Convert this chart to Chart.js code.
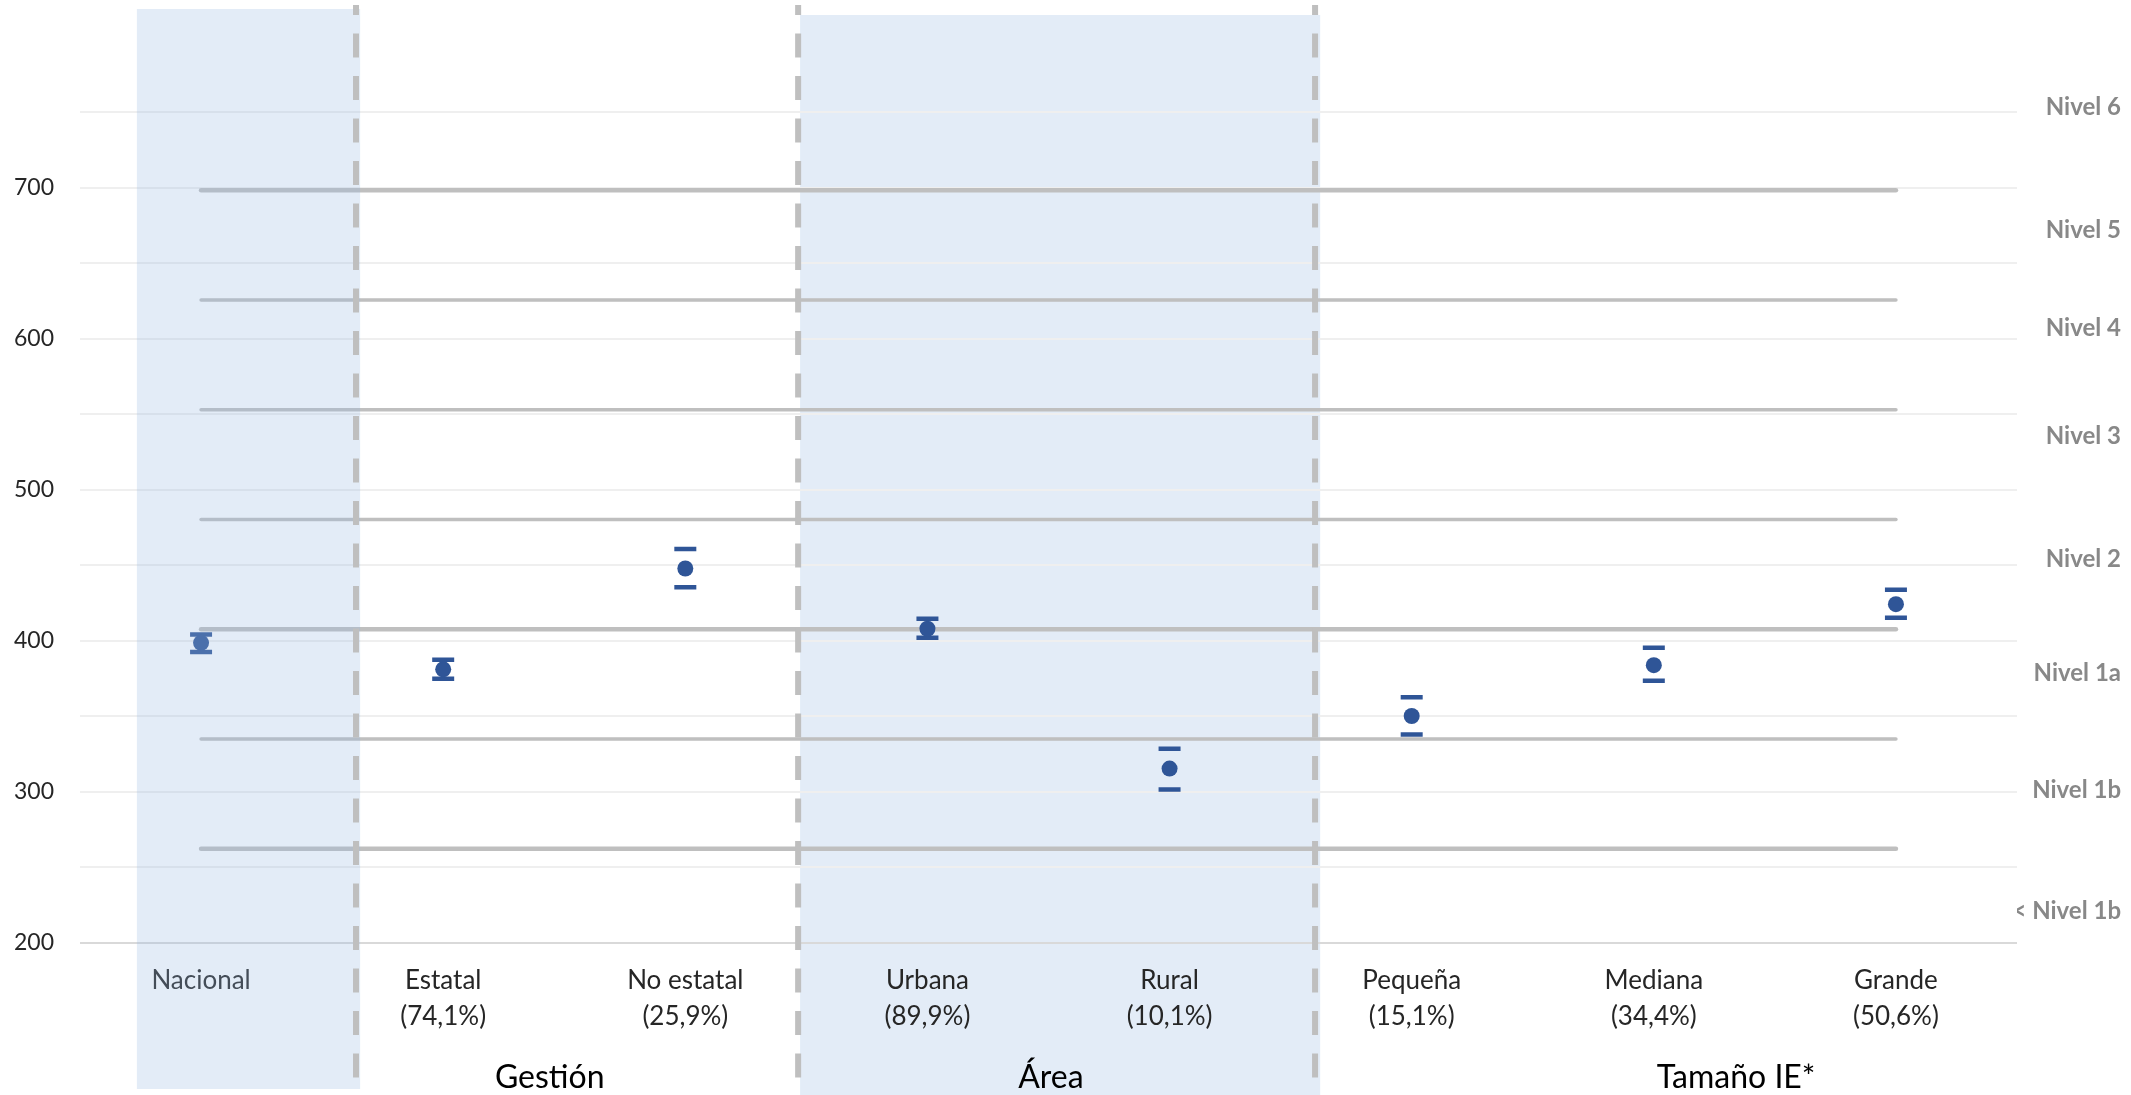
<!DOCTYPE html>
<html lang="es">
<head>
<meta charset="UTF-8">
<title>Puntaje promedio en lectura por características</title>
<script src="https://cdn.jsdelivr.net/npm/chart.js@4.4.1/dist/chart.umd.min.js"></script>
<style>
    html, body { margin: 0; padding: 0; background: #ffffff; }
    .contenedor { position: relative; width: 2131px; height: 1095px; }
</style>
</head>
<body>
<div class="contenedor">
    <canvas id="graficoNiveles"></canvas>
</div>
<script>
// ==========================================
// DATOS
// ==========================================
const categorias = ['Nacional', 'Estatal', 'No estatal', 'Urbana', 'Rural', 'Pequeña', 'Mediana', 'Grande'];
const porcentajes = ['', '(74,1%)', '(25,9%)', '(89,9%)', '(10,1%)', '(15,1%)', '(34,4%)', '(50,6%)'];

// Puntaje promedio y extremos del intervalo de confianza
const medias = [398.5, 380.9, 447.7, 407.8, 315.2, 350.0, 383.7, 424.1];
const limiteSuperior = [404.0, 387.3, 460.7, 414.4, 328.4, 362.4, 395.2, 433.6];
const limiteInferior = [392.4, 374.7, 435.3, 401.8, 301.3, 337.7, 373.4, 415.1];

// Puntos de corte de los niveles de desempeño
const puntosCorte = [262.04, 334.75, 407.47, 480.18, 552.89, 625.61, 698.32];

// Etiquetas de niveles (eje derecho)
const nivelesEtiquetas = ['< Nivel 1b', 'Nivel 1b', 'Nivel 1a', 'Nivel 2', 'Nivel 3', 'Nivel 4', 'Nivel 5', 'Nivel 6'];
const nivelesPosicion = [221, 301, 378, 454, 535, 607, 672, 753];

const grupos = ['Gestión', 'Área', 'Tamaño IE*'];

const ejeMin = 200;
const ejeMax = 760;
const ejePaso = 50;

const AZUL = '#2f5597';
const GRIS_NIVEL = '#bfbfbf';
// algunas líneas de corte se ven más gruesas en el original
const grosorLineas = [4.5, 3.5, 4.5, 3.5, 3.5, 3.5, 4.5];

document.addEventListener('DOMContentLoaded', () => {
    inicializarGrafico();
});

/**
 * Cajas sombreadas, líneas discontinuas y títulos de grupo
 */
const pluginSeparadores = {
    id: 'separadores',
    beforeDraw(chart, args, opts) {
        // caja de "Área" por detrás de la cuadrícula
        const ctx = chart.ctx;
        const x = chart.scales.x;
        const c = opts.cajaFondo;
        const x0 = x.getPixelForValue(c.desde);
        const x1 = x.getPixelForValue(c.hasta);
        ctx.save();
        ctx.fillStyle = opts.colorCaja;
        ctx.fillRect(x0, c.arriba, x1 - x0, chart.height - c.arriba - c.abajo);
        ctx.restore();
    },
    afterDraw(chart, args, opts) {
        const ctx = chart.ctx;
        const x = chart.scales.x;

        // caja de "Nacional" por encima de todo (semitransparente)
        const c = opts.cajaFrente;
        const x0 = x.getPixelForValue(c.desde);
        const x1 = x.getPixelForValue(c.hasta);
        ctx.save();
        ctx.fillStyle = opts.colorCaja;
        ctx.fillRect(x0, c.arriba, x1 - x0, chart.height - c.arriba - c.abajo);
        ctx.restore();

        // líneas discontinuas entre grupos
        ctx.save();
        ctx.strokeStyle = GRIS_NIVEL;
        ctx.lineWidth = 6;
        ctx.setLineDash([24, 18.5]);
        ctx.lineDashOffset = 14;
        opts.separadores.forEach(pos => {
            const px = x.getPixelForValue(pos);
            ctx.beginPath();
            ctx.moveTo(px, 5);
            ctx.lineTo(px, chart.height - 6);
            ctx.stroke();
        });
        ctx.restore();

        // títulos de grupo
        ctx.save();
        ctx.fillStyle = '#000000';
        ctx.font = '32px Lato';
        ctx.textAlign = 'center';
        ctx.textBaseline = 'alphabetic';
        grupos.forEach((g, i) => {
            ctx.fillText(g, x.getPixelForValue(opts.centrosGrupo[i]), chart.height - 7);
        });
        ctx.restore();
    }
};

function inicializarGrafico() {
    const lienzo = document.getElementById('graficoNiveles');
    if (!lienzo) return;

    const etiquetas = categorias.map((c, i) => porcentajes[i] ? [c, porcentajes[i]] : c);

    // una línea horizontal por cada punto de corte
    const lineasNiveles = puntosCorte.map((corte, i) => ({
        label: 'Corte ' + corte,
        data: categorias.map(() => corte),
        borderColor: GRIS_NIVEL,
        borderWidth: grosorLineas[i],
        borderCapStyle: 'round',
        pointRadius: 0,
        fill: false,
        order: 5
    }));

    new Chart(lienzo.getContext('2d'), {
        type: 'line',
        data: {
            labels: etiquetas,
            datasets: [
                {
                    label: 'Puntaje promedio',
                    data: medias,
                    showLine: false,
                    pointRadius: 8,
                    pointBackgroundColor: AZUL,
                    pointBorderWidth: 0,
                    order: 0
                },
                {
                    label: 'Límite superior',
                    data: limiteSuperior,
                    showLine: false,
                    pointStyle: 'line',
                    pointRadius: 11,
                    pointBorderColor: AZUL,
                    pointBorderWidth: 4.5,
                    order: 1
                },
                {
                    label: 'Límite inferior',
                    data: limiteInferior,
                    showLine: false,
                    pointStyle: 'line',
                    pointRadius: 11,
                    pointBorderColor: AZUL,
                    pointBorderWidth: 4.5,
                    order: 1
                },
                ...lineasNiveles
            ]
        },
        options: {
            responsive: true,
            maintainAspectRatio: false,
            animation: false,
            events: [],
            layout: {
                padding: { top: 97, right: 10, bottom: 0, left: 14 }
            },
            plugins: {
                legend: { display: false },
                tooltip: { enabled: false },
                separadores: {
                    colorCaja: 'rgba(151, 184, 225, 0.27)',
                    cajaFondo: { desde: 2.474, hasta: 4.622, arriba: 15, abajo: 0 },
                    cajaFrente: { desde: -0.265, hasta: 0.657, arriba: 9, abajo: 6 },
                    separadores: [0.640, 2.466, 4.601],
                    centrosGrupo: [1.44, 3.51, 6.34]
                }
            },
            scales: {
                x: {
                    type: 'category',
                    offset: true,
                    grid: { display: false, drawTicks: false },
                    border: { display: false },
                    ticks: {
                        autoSkip: false,
                        maxRotation: 0,
                        padding: 20,
                        color: '#262626',
                        font: { family: 'Lato', size: 26, lineHeight: 1.385 }
                    },
                    afterFit: (escala) => { escala.height = 152.5; }
                },
                y: {
                    type: 'linear',
                    position: 'left',
                    min: ejeMin,
                    max: ejeMax,
                    grid: {
                        drawTicks: false,
                        lineWidth: 2,
                        color: (c) => (c.tick && c.tick.value === ejeMin) ? '#d9d9d9' : '#efefef'
                    },
                    border: { display: false },
                    ticks: {
                        stepSize: ejePaso,
                        includeBounds: false,
                        padding: 26,
                        color: '#262626',
                        font: { family: 'Lato', size: 23 },
                        callback: (v) => (v % 100 === 0 ? v : '')
                    },
                    afterFit: (escala) => { escala.width = 66; }
                },
                y2: {
                    type: 'linear',
                    position: 'right',
                    min: ejeMin,
                    max: ejeMax,
                    grid: { display: false, drawTicks: false },
                    border: { display: false },
                    afterBuildTicks: (escala) => {
                        escala.ticks = nivelesPosicion.map(v => ({ value: v }));
                    },
                    ticks: {
                        autoSkip: false,
                        crossAlign: 'far',
                        padding: 0,
                        color: '#888888',
                        font: { family: 'Lato', size: 24, weight: 'bold' },
                        callback: (v, i) => nivelesEtiquetas[i]
                    },
                    afterFit: (escala) => { escala.width = 104; }
                }
            }
        },
        plugins: [pluginSeparadores]
    });
}
</script>
</body>
</html>
